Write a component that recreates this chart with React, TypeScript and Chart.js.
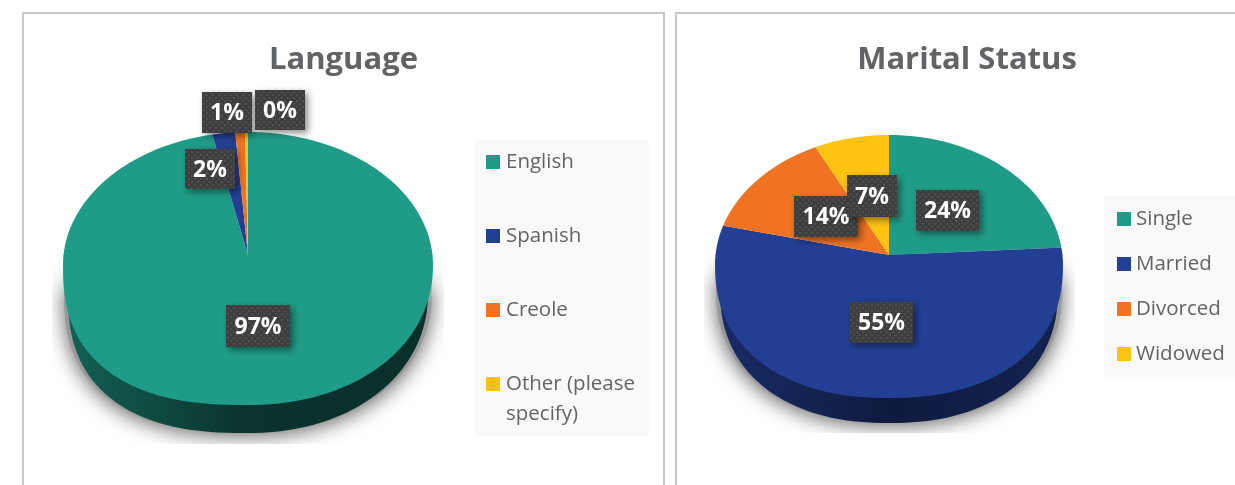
import React, { useEffect, useRef } from "react";
import { Chart, registerables } from "chart.js";

Chart.register(...registerables);

const languageLabels = ["English", "Spanish", "Creole", "Other (please specify)"];
const languageValues = [96.9, 2.0, 0.85, 0.25];
const maritalLabels = ["Single", "Married", "Divorced", "Widowed"];
const maritalValues = [24, 55, 14, 7];
const sliceColors = ["#1f9c87", "#233f94", "#ef7323", "#fec210"];

type Layout = {
  title: string; labels: string[]; values: number[];
  left: number; top: number; width: number; height: number;
  cx: number; cy: number; rx: number; kTop: number; kBottom: number; depth: number; inset: number;
  widest: number; powerLeft: number; powerRight: number;
  shadow: number[];
  legendBox: number[]; swatchX: number; textX: number; rows: number[]; maxText: number;
  boxes: number[][];
  wall: number[];
};

const layouts: Layout[] = [
  {
    title: "Language", labels: languageLabels, values: languageValues,
    left: 22, top: 12, width: 643, height: 473,
    cx: 248, cy: 255, rx: 185, kTop: 123 / 185, kBottom: 150 / 185, depth: 28, inset: 5, widest: 10,
    powerLeft: 2.5, powerRight: 2.1,
    shadow: [52, 262, 392, 182],
    legendBox: [474, 140, 175, 296], swatchX: 486, textX: 506, rows: [162, 236, 310, 384], maxText: 145,
    boxes: [[226, 305, 64, 42], [185, 149, 50, 40], [202, 92, 50, 41], [255, 90, 50, 40]],
    wall: [0.62, 0.33, 0.3],
  },
  {
    title: "Marital Status", labels: maritalLabels, values: maritalValues,
    left: 675, top: 12, width: 584, height: 473,
    cx: 889, cy: 255, rx: 174, kTop: 120 / 174, kBottom: 143 / 174, depth: 25, inset: 5, widest: 10,
    powerLeft: 2.25, powerRight: 2.25,
    shadow: [704, 250, 371, 183],
    legendBox: [1104, 196, 131, 181], swatchX: 1117, textX: 1136, rows: [219, 264, 309, 354], maxText: 200,
    boxes: [[916, 190, 63, 41], [850, 302, 63, 41], [794, 196, 64, 41], [847, 175, 50, 42]],
    wall: [0.7, 0.42, 0.55],
  },
];

function shade(hex: string, f: number) {
  const n = parseInt(hex.slice(1), 16);
  const c = [(n >> 16) & 255, (n >> 8) & 255, n & 255].map((v) => Math.round(v * f));
  return `rgb(${c[0]},${c[1]},${c[2]})`;
}

function dotPattern(ctx: CanvasRenderingContext2D) {
  const p = document.createElement("canvas");
  p.width = 6; p.height = 6;
  const g = p.getContext("2d")!;
  g.fillStyle = "#3e3e3e";
  g.fillRect(0, 0, 6, 6);
  g.fillStyle = "#4f4f4f";
  g.fillRect(1, 1, 2, 2);
  g.fillRect(4, 4, 2, 2);
  return ctx.createPattern(p, "repeat")!;
}

// Outline of the tilted disc: rounder above its widest line, fuller below it.
function outlinePath(
  ctx: CanvasRenderingContext2D, l: Layout, cx: number, midY: number, a: number, bTop: number, bBottom: number,
) {
  ctx.beginPath();
  const steps = 180;
  for (let i = 0; i <= steps; i++) {
    const t = (i / steps) * Math.PI * 2;
    const c = Math.cos(t), s = Math.sin(t);
    const power = c < 0 ? l.powerLeft : l.powerRight;
    const px = s >= 0 ? 2 / power : 1;
    const x = cx + a * Math.sign(c) * Math.pow(Math.abs(c), px);
    const y = s >= 0
      ? midY + bBottom * Math.pow(Math.abs(s), 2 / power)
      : midY - bTop * Math.abs(s);
    if (i === 0) ctx.moveTo(x, y); else ctx.lineTo(x, y);
  }
  ctx.closePath();
}

function piePlugin(l: Layout) {
  const ox = l.left, oy = l.top;
  return {
    id: "tiltedPie",
    beforeDatasetsDraw(chart: any) {
      const ctx: CanvasRenderingContext2D = chart.ctx;
      const arcs = chart.getDatasetMeta(0).data;
      const cx = l.cx - ox, cy = l.cy - oy;
      const midY = cy + l.widest;
      const bTop = l.rx * l.kTop + l.widest;
      const bBottom = l.rx * l.kBottom - l.widest;
      const wallY = cy + l.depth;
      const wallMid = midY + l.depth;
      const wallA = l.rx - l.inset;

      // soft shadow under the pie
      const sx = l.shadow[0] - ox, sy = l.shadow[1] - oy;
      ctx.save();
      ctx.beginPath();
      ctx.rect(sx, sy, l.shadow[2], l.shadow[3]);
      ctx.clip();
      ctx.shadowColor = "rgba(0,0,0,0.6)";
      ctx.shadowBlur = 20;
      ctx.shadowOffsetY = 3;
      ctx.fillStyle = "#999";
      outlinePath(ctx, l, cx, wallMid, wallA + 4, bTop, bBottom);
      ctx.fill();
      ctx.shadowColor = "transparent";
      const fade = ctx.createLinearGradient(0, sy, 0, sy + 40);
      fade.addColorStop(0, "rgba(255,255,255,1)");
      fade.addColorStop(1, "rgba(255,255,255,0)");
      ctx.fillStyle = fade;
      ctx.fillRect(sx, sy, l.shadow[2], 40);
      ctx.restore();

      // side wall
      ctx.save();
      outlinePath(ctx, l, cx, wallMid, wallA, bTop, bBottom);
      ctx.clip();
      arcs.forEach((el: any, i: number) => {
        const a = Math.max(el.startAngle, 0);
        const b = Math.min(el.endAngle, Math.PI);
        if (b <= a) return;
        const base = chart.data.datasets[0].backgroundColor[i];
        const g = ctx.createLinearGradient(cx - l.rx, 0, cx + l.rx, 0);
        g.addColorStop(0, shade(base, l.wall[0]));
        g.addColorStop(0.5, shade(base, l.wall[1]));
        g.addColorStop(1, shade(base, l.wall[2]));
        ctx.fillStyle = g;
        ctx.beginPath();
        ctx.moveTo(cx, wallY);
        ctx.ellipse(cx, wallY, l.rx * 1.3, l.rx * 1.3, 0, a, b);
        ctx.closePath();
        ctx.fill();
      });
      ctx.restore();

      // top face: the library's arc elements, tilted in two halves and trimmed to the outline
      const over = 1.18;
      ctx.save();
      outlinePath(ctx, l, cx, midY, l.rx, bTop, bBottom);
      ctx.clip();
      const halves = [
        { y: 0, h: cy + 0.5, k: l.kTop },
        { y: cy - 0.5, h: chart.height, k: l.kBottom },
      ];
      halves.forEach((hf) => {
        ctx.save();
        ctx.beginPath();
        ctx.rect(0, hf.y, chart.width, hf.h);
        ctx.clip();
        ctx.translate(cx, cy);
        ctx.scale(over, hf.k * over);
        ctx.translate(-arcs[0].x, -arcs[0].y);
        arcs.forEach((el: any) => el.draw(ctx));
        ctx.restore();
      });
      ctx.restore();
      return false;
    },
    afterDraw(chart: any) {
      const ctx: CanvasRenderingContext2D = chart.ctx;
      const colors = chart.data.datasets[0].backgroundColor;
      const vals: number[] = chart.data.datasets[0].data;
      const sum = vals.reduce((s, v) => s + v, 0);

      // legend
      ctx.save();
      ctx.fillStyle = "#f9f9f9";
      ctx.fillRect(l.legendBox[0] - ox, l.legendBox[1] - oy, l.legendBox[2], l.legendBox[3]);
      ctx.font = '20.5px "Open Sans"';
      ctx.textBaseline = "middle";
      chart.data.labels.forEach((label: string, i: number) => {
        const y = l.rows[i] - oy;
        ctx.fillStyle = colors[i];
        ctx.fillRect(l.swatchX - ox, y - 7, 14, 14);
        ctx.fillStyle = "#636466";
        const lines: string[] = [];
        let cur = "";
        label.split(" ").forEach((w) => {
          const t = cur ? cur + " " + w : w;
          if (ctx.measureText(t).width > l.maxText && cur) { lines.push(cur); cur = w; } else cur = t;
        });
        lines.push(cur);
        lines.forEach((t, j) => ctx.fillText(t, l.textX - ox, y + j * 30));
      });
      ctx.restore();

      // value labels
      const pat = dotPattern(ctx);
      vals.forEach((v, i) => {
        const [bx, by, bw, bh] = l.boxes[i];
        ctx.save();
        ctx.shadowColor = "rgba(0,0,0,0.45)";
        ctx.shadowBlur = 7;
        ctx.shadowOffsetX = 3;
        ctx.shadowOffsetY = 3;
        ctx.fillStyle = pat;
        ctx.fillRect(bx - ox, by - oy, bw, bh);
        ctx.restore();
        ctx.save();
        ctx.fillStyle = "#ffffff";
        ctx.font = 'bold 23px "Open Sans"';
        ctx.textAlign = "center";
        ctx.textBaseline = "middle";
        ctx.fillText(`${Math.round((v / sum) * 100)}%`, bx - ox + bw / 2, by - oy + bh / 2 + 1);
        ctx.restore();
      });
    },
  };
}

function Panel({ l }: { l: Layout }) {
  const ref = useRef<HTMLCanvasElement>(null);
  useEffect(() => {
    const chart = new Chart(ref.current!, {
      type: "pie",
      data: {
        labels: l.labels,
        datasets: [{
          data: l.values,
          backgroundColor: sliceColors,
          borderWidth: 0,
          radius: l.rx,
        } as any],
      },
      options: {
        responsive: false,
        animation: false,
        plugins: {
          legend: { display: false },
          tooltip: { enabled: false },
          title: {
            display: true,
            text: l.title,
            color: "#626366",
            font: { family: '"Open Sans"', size: 31, weight: "bold" },
            padding: { top: 30, bottom: 8 },
          },
        },
      },
      plugins: [piePlugin(l) as any],
    });
    return () => chart.destroy();
  }, [l]);
  return (
    <div
      style={{
        position: "absolute", left: l.left, top: l.top, width: l.width, height: l.height + 4,
        boxSizing: "border-box", border: "2px solid #c8c8c8", background: "#fff",
      }}
    >
      <canvas
        ref={ref}
        width={l.width}
        height={l.height}
        style={{ position: "absolute", left: -2, top: -2, display: "block" }}
      />
    </div>
  );
}

export default function App() {
  return (
    <div style={{ position: "fixed", left: 0, top: 0, width: 1235, height: 485, overflow: "hidden", background: "#fff" }}>
      {layouts.map((l) => <Panel key={l.title} l={l} />)}
    </div>
  );
}
